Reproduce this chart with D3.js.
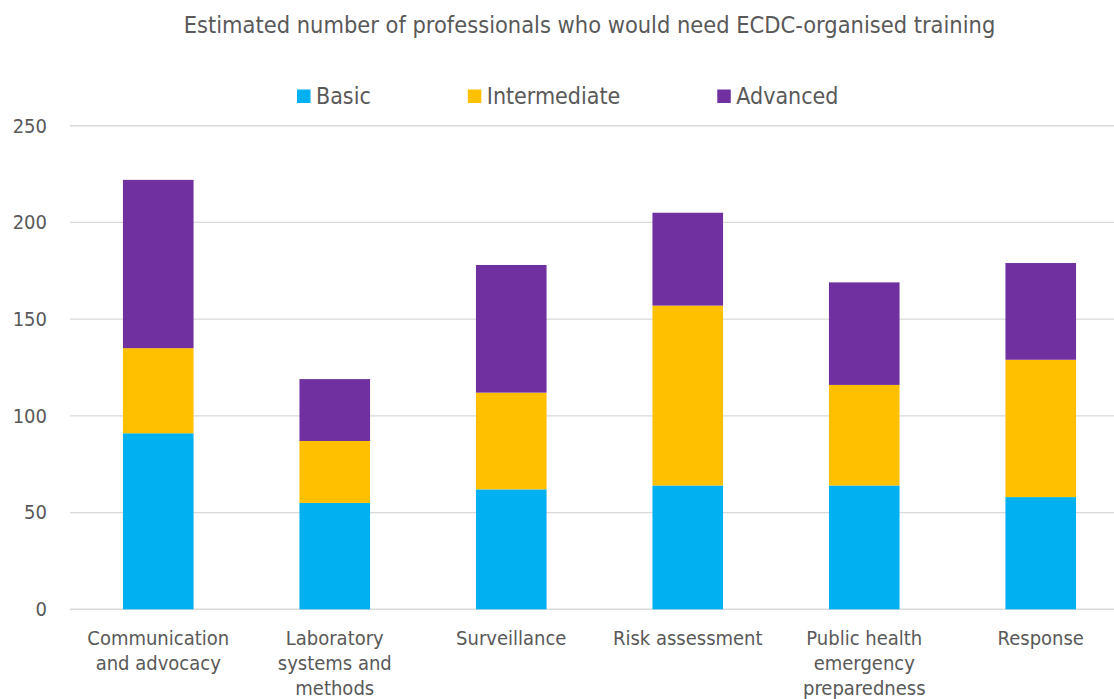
<!DOCTYPE html>
<html>
<head>
<meta charset="utf-8">
<script src="https://cdn.jsdelivr.net/npm/d3@7"></script>
<style>
  html, body { margin: 0; padding: 0; background: #fff; }
  svg { display: block; }
  text { font-family: "DejaVu Sans Condensed", "DejaVu Sans", sans-serif; fill: #595959; }
</style>
</head>
<body>
<svg id="chart" width="1114" height="699"></svg>
<script>
// Training areas and the estimated number of professionals per level
const categories = [
  ["Communication", "and advocacy"],
  ["Laboratory", "systems and", "methods"],
  ["Surveillance"],
  ["Risk assessment"],
  ["Public health", "emergency", "preparedness"],
  ["Response"]
];
const seriesNames = ["Basic", "Intermediate", "Advanced"];
const basic        = [91, 55, 62, 64, 64, 58];
const intermediate = [44, 32, 50, 93, 52, 71];
const advanced     = [87, 32, 66, 48, 53, 50];
const yTicks = [0, 50, 100, 150, 200, 250];
const colors = ["#00B0F0", "#FFC000", "#7030A0"];
const title = "Estimated number of professionals who would need ECDC-organised training";

const svg = d3.select("#chart");
const W = 1114;
const x0 = 70, x1 = 1129;
const yTop = 125.7, yBottom = 609.3;

const keys = categories.map((c, i) => i);
const x = d3.scaleBand().domain(keys).range([x0, x1]).paddingInner(0.6).paddingOuter(0.3);
const y = d3.scaleLinear().domain([0, 250]).range([yBottom, yTop]);

// Table for stacking
const table = keys.map(i => ({ idx: i, Basic: basic[i], Intermediate: intermediate[i], Advanced: advanced[i] }));
const stack = d3.stack().keys(seriesNames)(table);

// Gridlines
svg.append("g")
  .selectAll("line")
  .data(yTicks)
  .join("line")
  .attr("x1", x0).attr("x2", W)
  .attr("y1", d => y(d)).attr("y2", d => y(d))
  .attr("stroke", "#d9d9d9")
  .attr("stroke-width", 1.4);

// Y axis labels
const yAxis = d3.axisLeft(y).tickValues(yTicks).tickSize(0).tickPadding(0);
const gy = svg.append("g").attr("transform", "translate(47,0)").call(yAxis);
gy.select(".domain").remove();
gy.selectAll("text")
  .attr("font-family", null)
  .style("font-size", "20px")
  .attr("fill", "#595959");

// Stacked bars
svg.append("g")
  .selectAll("g")
  .data(stack)
  .join("g")
  .attr("fill", (d, i) => colors[i])
  .selectAll("rect")
  .data(d => d)
  .join("rect")
  .attr("x", d => x(d.data.idx))
  .attr("width", x.bandwidth())
  .attr("y", d => y(d[1]))
  .attr("height", d => y(d[0]) - y(d[1]));

// Category labels
const cat = svg.append("g");
categories.forEach((lines, i) => {
  const cx = x(i) + x.bandwidth() / 2;
  const t = cat.append("text")
    .attr("x", cx)
    .attr("y", 645)
    .attr("text-anchor", "middle")
    .style("font-size", "20px");
  lines.forEach((ln, j) => {
    t.append("tspan").attr("x", cx).attr("dy", j === 0 ? 0 : 25).text(ln);
  });
});

// Title
svg.append("text")
  .attr("x", 589.5)
  .attr("y", 33)
  .attr("text-anchor", "middle")
  .style("font-size", "23.4px")
  .text(title);

// Legend
const legend = svg.append("g");
let lx = 297;
seriesNames.forEach((name, i) => {
  legend.append("rect")
    .attr("x", lx).attr("y", 89.5)
    .attr("width", 13.5).attr("height", 13.5)
    .attr("fill", colors[i]);
  const t = legend.append("text")
    .attr("x", lx + 19).attr("y", 104)
    .style("font-size", "23px")
    .text(name);
  lx += 19 + t.node().getComputedTextLength() + 97;
});
</script>
</body>
</html>
